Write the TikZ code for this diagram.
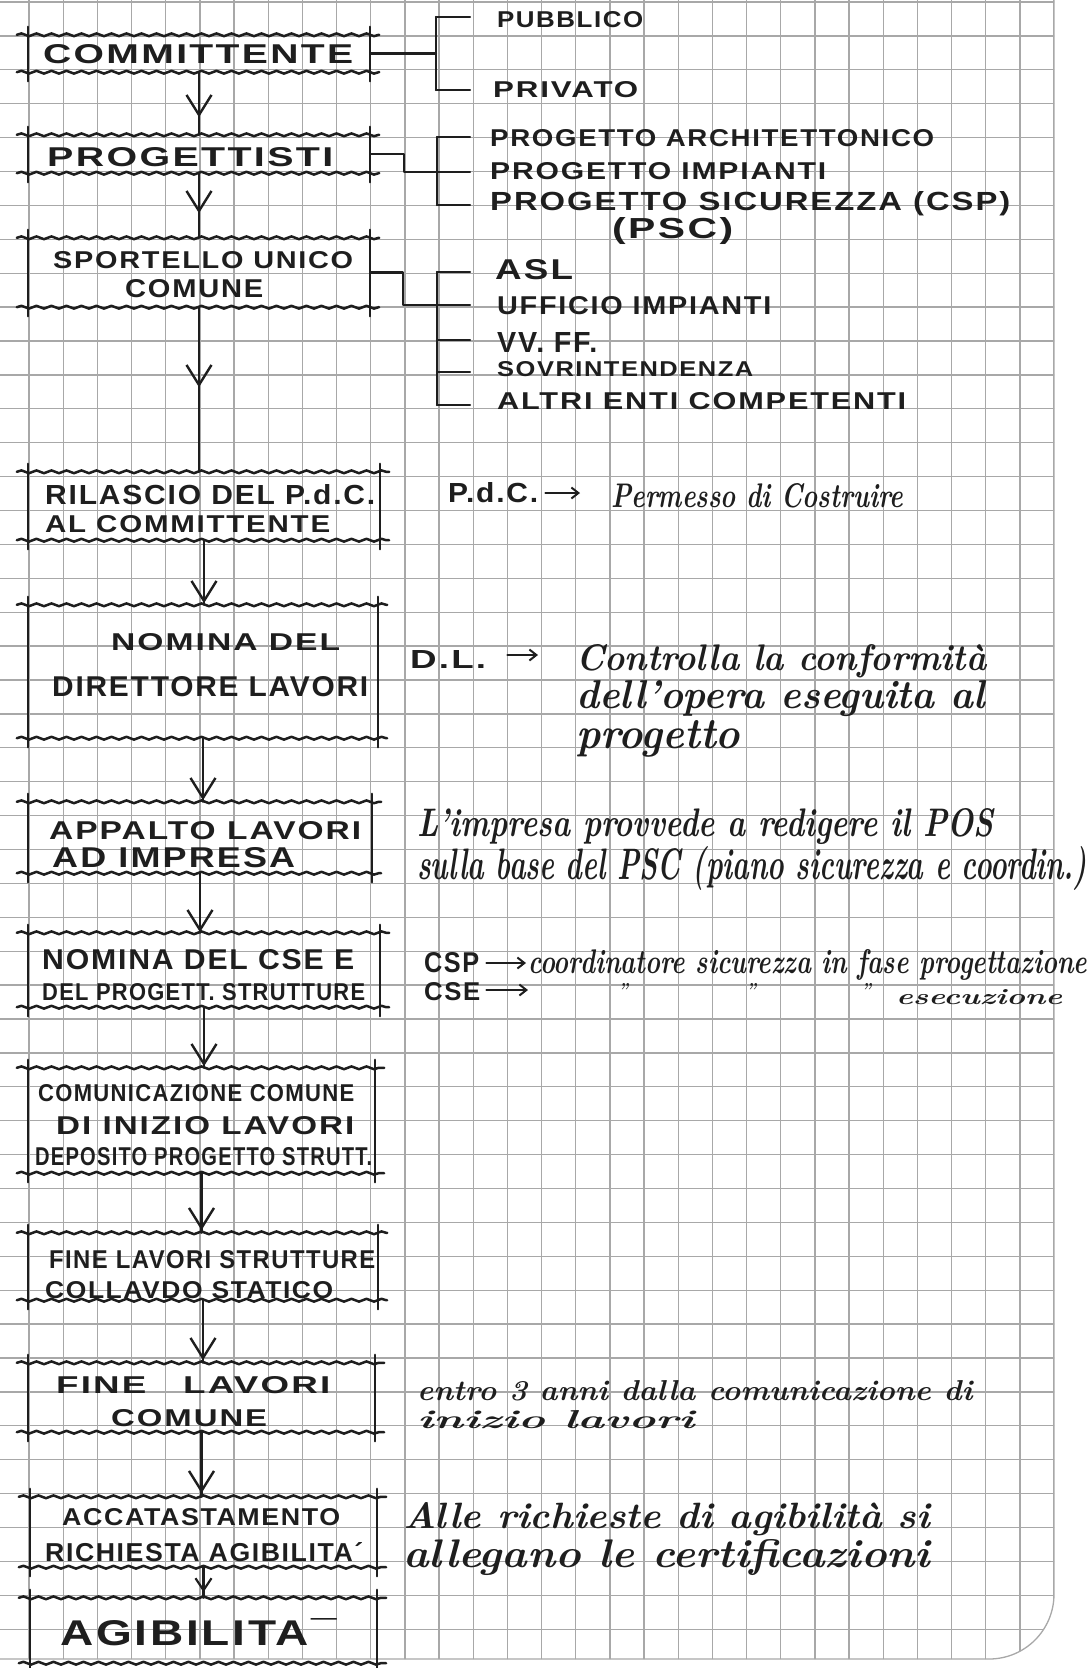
\documentclass[tikz,border=0pt]{standalone}
\usepackage{fontspec}
\usepackage{graphicx}
\usetikzlibrary{arrows.meta,decorations.pathmorphing,decorations.markings,calc}
\newfontfamily\capsf[LetterSpace=6]{Liberation Sans}
\newcommand\cursf{\rmfamily\bfseries\itshape}
\definecolor{inkc}{RGB}{30,30,30}
\definecolor{gridc}{RGB}{168,168,168}
\newcommand\fitbox[3]{\resizebox{#1pt}{#2pt}{#3}}
\newcommand\cp[6]{\node[txt] (#1) at (#2,#3) {\capsf\bfseries\fitbox{#4}{#5}{#6}};}
\newcommand\cu[6]{\node[txt] (#1) at (#2,#3) {\cursf\fitbox{#4}{#5}{#6}};}
\newcommand\handbox[1]{%
  \draw[wavy] ($(#1.north west)+(-11,0)$) -- ($(#1.north east)+(9,0)$);
  \draw[wavy] ($(#1.south west)+(-11,0)$) -- ($(#1.south east)+(9,0)$);
  \draw[side] ($(#1.north west)+(0,-8)$) -- ($(#1.south west)+(0,9)$);
  \draw[side] ($(#1.north east)+(0,-8)$) -- ($(#1.south east)+(0,9)$);}
\tikzset{
  inkline/.style={draw=inkc, line width=2.5pt, line cap=round, line join=round},
  wavy/.style={inkline, decorate, decoration={snake, amplitude=1.4pt, segment length=15pt}},
  side/.style={inkline},
  boxn/.style={rectangle, inner sep=0pt},
  txt/.style={inner sep=0pt, anchor=west, text=inkc},
  link/.style={inkline, line width=2.2pt},
  gridl/.style={draw=gridc, line width=1.3pt},
  vmark/.style={postaction={decorate, decoration={markings,
      mark=at position #1 with {\arrow[line width=2.4pt]{Straight Barb[length=20pt,width=25pt]}}}}},
  vsmall/.style={postaction={decorate, decoration={markings,
      mark=at position #1 with {\arrow[line width=2.2pt]{Straight Barb[length=12pt,width=16pt]}}}}},
  sarrow/.style={link, line width=2pt, -{Straight Barb[length=7pt,width=11pt]}},
}
\begin{document}
\begin{tikzpicture}[x=1pt,y=-1pt,color=inkc]
\useasboundingbox[fill=white] (0,0) rectangle (1089,1668);
% paper and grid
\begin{scope}
\clip (0,0) -- (1054,0) -- (1054,1594) .. controls (1054,1630) and (1025,1659) .. (989,1659) -- (0,1659) -- cycle;
\foreach \i in {0,...,30} { \draw[gridl] ({29+34.17*\i},0) -- ({29+34.17*\i},1668); }
\foreach \j in {0,...,48} { \draw[gridl] (0,{2+33.9*\j}) -- (1089,{2+33.9*\j}); }
\end{scope}
\draw[gridl] (1054,0) -- (1054,1594) .. controls (1054,1630) and (1025,1659) .. (989,1659) -- (0,1659);

% boxes
\node[boxn, minimum width=342pt, minimum height=37pt] (b1) at (199,53.5) {};
\node[boxn, minimum width=342pt, minimum height=38pt] (b2) at (199,154) {};
\node[boxn, minimum width=342pt, minimum height=69pt] (b3) at (199,272.5) {};
\node[boxn, minimum width=352pt, minimum height=68pt] (b4) at (204,506) {};
\node[boxn, minimum width=350pt, minimum height=133pt] (b5) at (203,671.5) {};
\node[boxn, minimum width=344pt, minimum height=71pt] (b6) at (200,837.5) {};
\node[boxn, minimum width=352pt, minimum height=74pt] (b7) at (204,970) {};
\node[boxn, minimum width=347pt, minimum height=105pt] (b8) at (201.5,1120.5) {};
\node[boxn, minimum width=350pt, minimum height=67pt] (b9) at (203,1266.5) {};
\node[boxn, minimum width=347pt, minimum height=69pt] (b10) at (201.5,1397.5) {};
\node[boxn, minimum width=347pt, minimum height=70pt] (b11) at (203.5,1532) {};
\node[boxn, minimum width=347pt, minimum height=65pt] (b12) at (203.5,1630.5) {};
\foreach \b in {b1,b2,b3,b4,b5,b6,b7,b8,b9,b10,b11,b12} { \handbox{\b} }

% box texts
\cp{t1}{43}{54.5}{310}{19}{COMMITTENTE}
\cp{t2}{47}{157}{286}{19}{PROGETTISTI}
\cp{t3a}{53}{260}{300}{17}{SPORTELLO UNICO}
\cp{t3b}{125}{289}{138}{18}{COMUNE}
\cp{t4a}{45}{495}{330}{20}{RILASCIO DEL P.d.C.}
\cp{t4b}{45}{524}{285}{17}{AL COMMITTENTE}
\cp{t5a}{111}{642}{229}{17}{NOMINA DEL}
\cp{t5b}{52}{687}{316}{20}{DIRETTORE LAVORI}
\cp{t6a}{49}{831}{312}{18}{APPALTO LAVORI}
\cp{t6b}{52}{858}{243}{20}{AD IMPRESA}
\cp{t7a}{42}{960}{312}{20}{NOMINA DEL CSE E}
\cp{t7b}{42}{992}{323}{17}{DEL PROGETT. STRUTTURE}
\cp{t8a}{38}{1093}{316}{17}{COMUNICAZIONE COMUNE}
\cp{t8b}{56}{1126}{298}{18}{DI INIZIO LAVORI}
\cp{t8c}{35}{1157}{337}{18}{DEPOSITO PROGETTO STRUTT.}
\cp{t9a}{49}{1260}{326}{18}{FINE LAVORI STRUTTURE}
\cp{t9b}{45}{1290}{288}{17}{COLLAVDO STATICO}
\cp{t10a}{56}{1385}{274}{17}{FINE\quad LAVORI}
\cp{t10b}{111}{1418}{156}{17}{COMUNE}
\cp{t11a}{62}{1517}{278}{17}{ACCATASTAMENTO}
\cp{t11b}{45}{1552}{318}{19}{RICHIESTA AGIBILITA´}
\cp{t12}{60}{1632}{277}{27}{AGIBILITA¯}

% flow connectors
\draw[link, vmark=45pt] (b1.south) -- (b1.south |- b2.north);
\draw[link, vmark=40pt] (b2.south) -- (b2.south |- b3.north);
\draw[link, vmark=80pt] (b3.south) -- (b3.south |- b4.north);
\draw[link, vmark=63pt] (b4.south) -- (b4.south |- b5.north);
\draw[link, vmark=62pt] (b5.south) -- (b5.south |- b6.north);
\draw[link, vmark=59pt] (b6.south) -- (b6.south |- b7.north);
\draw[link, vmark=59pt] (b7.south) -- (b7.south |- b8.north);
\draw[link, vmark=57pt] (b8.south) -- (b8.south |- b9.north);
\draw[link, vmark=60pt] (b9.south) -- (b9.south |- b10.north);
\draw[link, vmark=61pt] (b10.south) -- (b10.south |- b11.north);
\draw[link, vsmall=25pt] (b11.south) -- (b11.south |- b12.north);

% right side lists
\cp{pub}{497}{20}{146}{16}{PUBBLICO}
\cp{pri}{493}{90}{145}{16}{PRIVATO}
\cp{pa}{490}{138}{444}{17}{PROGETTO ARCHITETTONICO}
\cp{pi}{490}{171}{336}{17}{PROGETTO IMPIANTI}
\cp{ps}{490}{204}{520}{19}{PROGETTO SICUREZZA (CSP)}
\cp{psc}{612}{231}{121}{21}{(PSC)}
\cp{asl}{495}{270}{78}{20}{ASL}
\cp{uff}{497}{306}{274}{18}{UFFICIO IMPIANTI}
\cp{vvff}{497}{342}{100}{20}{VV. FF.}
\cp{sov}{497}{369}{256}{15}{SOVRINTENDENZA}
\cp{altri}{497}{401}{409}{17}{ALTRI ENTI COMPETENTI}

% brackets
\coordinate (s1t) at (436,17);
\coordinate (s1b) at (436,90);
\draw[link] (b1.east) -- (b1.east -| s1t);
\draw[link] (s1t) -- (s1b);
\draw[link] (s1t) -- ++(34,0);
\draw[link] (s1b) -- ++(34,0);

\coordinate (k2) at (404,172);
\coordinate (s2t) at (437,137);
\coordinate (s2b) at (437,205);
\draw[link] (b2.east) -| (k2) -- ++(66,0);
\draw[link] (s2t) -- (s2b);
\draw[link] (s2t) -- ++(33,0);
\draw[link] (s2b) -- ++(33,0);

\coordinate (k3) at (403,305);
\coordinate (s3t) at (437,272);
\coordinate (s3b) at (437,405);
\draw[link] (b3.east) -| (k3) -- ++(67,0);
\draw[link] (s3t) -- (s3b);
\draw[link] (s3t) -- ++(33,0);
\draw[link] (437,340) -- ++(33,0);
\draw[link] (437,372) -- ++(33,0);
\draw[link] (s3b) -- ++(33,0);

% annotations
\cp{pdc}{448}{493}{90}{20}{P.d.C.}
\cu{perm}{611}{496}{292}{24}{Permesso di Costruire}
\draw[sarrow, shorten <=7pt, shorten >=31pt] (pdc.east) -- (pdc.east -| perm.west);

\cp{dl}{410}{659}{76}{18}{D.L.}
\cu{c1}{576}{661}{410}{26}{Controlla la conformità}
\cu{c2}{576}{699}{409}{28}{dell'opera eseguita al}
\cu{c3}{576}{739}{164}{28}{progetto}
\draw[sarrow, shorten <=21pt, shorten >=38pt] ($(dl.east)+(0,-4)$) -- ($(dl.east -| c1.west)+(0,-4)$);

\cu{imp1}{417}{827}{576}{28}{L'impresa provvede a redigere il POS}
\cu{imp2}{417}{868}{670}{33}{sulla base del PSC (piano sicurezza e coordin.)}

\cp{csp}{424}{963}{55}{20}{CSP}
\cu{coord}{528}{965}{559}{24}{coordinatore sicurezza in fase progettazione}
\draw[sarrow, shorten <=7pt, shorten >=2pt] (csp.east) -- (csp.east -| coord.west);
\cp{cse}{424}{992}{56}{18}{CSE}
\coordinate (cseend) at (528,990);
\draw[sarrow, shorten <=6pt] (cse.east |- cseend) -- (cseend);
\cu{d1}{618}{990}{10}{13}{''}
\cu{d2}{746}{990}{10}{13}{''}
\cu{d3}{861}{990}{10}{13}{''}
\cu{esec}{896}{997}{166}{15}{esecuzione}

\cu{entro}{417}{1391}{555}{20}{entro 3 anni dalla comunicazione di}
\cu{iniz}{417}{1420}{277}{18}{inizio lavori}

\cu{alle}{403}{1519}{527}{26}{Alle richieste di agibilità si}
\cu{alleg}{403}{1558}{527}{28}{allegano le certificazioni}
\end{tikzpicture}
\end{document}
